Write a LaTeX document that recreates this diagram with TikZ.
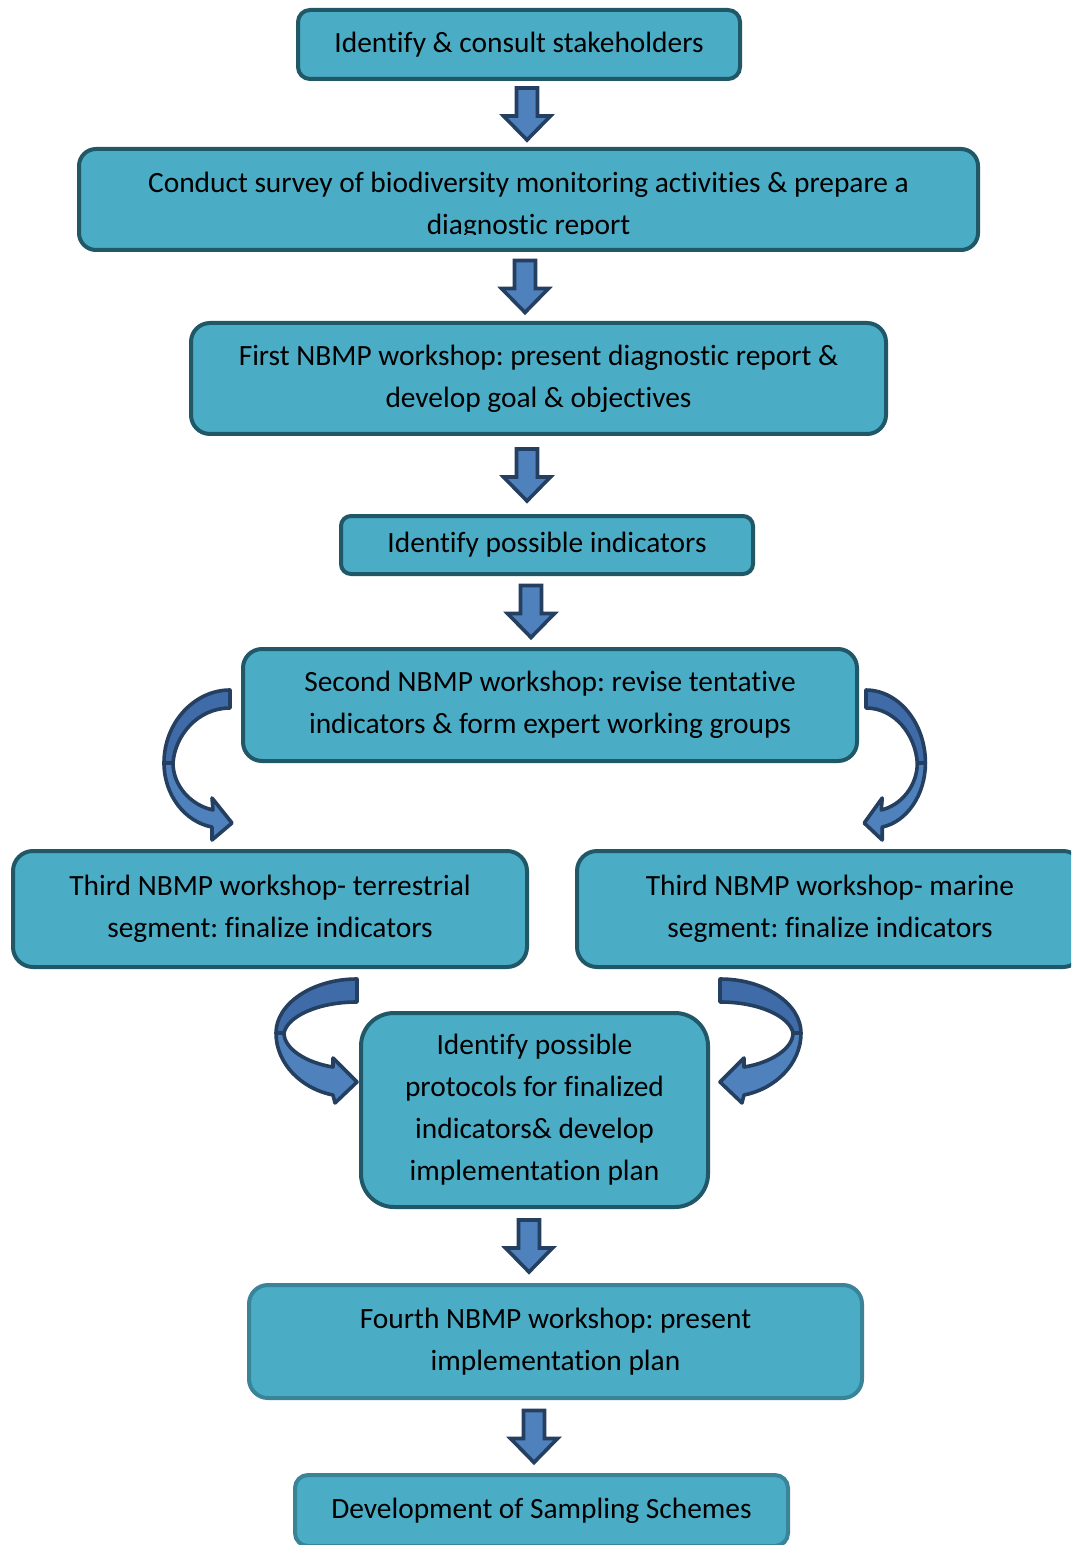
\documentclass[tikz,border=0pt]{standalone}
\usepackage{fontspec}
\setmainfont{Carlito}[Ligatures=NoCommon]
\usepackage{tikz}
\usetikzlibrary{calc}
\definecolor{acqua}{HTML}{4BACC6}
\definecolor{bordo}{HTML}{215868}
\definecolor{bordochiaro}{HTML}{3A8499}
\definecolor{blu}{HTML}{4F81BD}
\definecolor{bluscuro}{HTML}{3F6CA8}
\definecolor{contorno}{HTML}{243F60}
\frenchspacing

\tikzset{
  testo/.style={align=center, inner sep=0pt, font=\fontsize{14.7}{21}\selectfont},
  box/.style={testo, draw=bordo, fill=acqua, line width=2pt},
  frecciablu/.style={draw=contorno, fill=blu, line width=1.8pt, line join=miter},
  curvablu/.style={draw=contorno, line width=1.8pt, line join=round},
  curvapiccola/.pic={
    \draw[curvablu, fill=bluscuro] (0,0) .. controls (-35,0) and (-66,32) .. (-66,73)
      -- (-57,73) .. controls (-55,45) and (-32,18) .. (0,18) -- cycle;
    \draw[curvablu, fill=blu] (-66,73) .. controls (-66,105) and (-45,132) .. (-18,137)
      -- (-18,150) -- (2,133) -- (-18,108) -- (-17,120)
      .. controls (-40,115) and (-57,95) .. (-57,73) -- cycle;
  },
  curvagrande/.pic={
    \draw[curvablu, fill=bluscuro] (0,0) .. controls (-45,0) and (-81,25) .. (-81,54)
      -- (-73,54) .. controls (-70,38) and (-40,23) .. (0,23) -- cycle;
    \draw[curvablu, fill=blu] (-81,54) .. controls (-81,85) and (-55,110) .. (-24,116)
      -- (-22,124) -- (0,103) -- (-24,79) -- (-24,88)
      .. controls (-50,84) and (-73,70) .. (-73,54) -- cycle;
  },
}

% freccia verticale tra due riquadri: da, a, ascissa
\newcommand{\freccia}[3]{%
  \coordinate (M) at ($(#3,0 |- #1.south)!0.5!(#3,0 |- #2.north)$);
  \draw[frecciablu] ($(M)+(-10.5,-26)$) -- ($(M)+(-10.5,2)$) -- ($(M)+(-23.5,2)$)
    -- ($(M)+(0,26)$) -- ($(M)+(23.5,2)$) -- ($(M)+(10.5,2)$)
    -- ($(M)+(10.5,-26)$) -- cycle;}

\begin{document}
\begin{tikzpicture}[x=0.5pt, y=-0.5pt]
  \useasboundingbox (0,0) rectangle (1071,1545);
  \clip (0,0) rectangle (1071,1545);

  % Riquadri
  \node[box, minimum width=221pt, minimum height=34.5pt, rounded corners=6pt]
    (stake) at (519,44.5) {Identify \& consult stakeholders};
  \node[box, minimum width=449.5pt, minimum height=50.5pt, rounded corners=8.5pt]
    (survey) at (528.5,199.5) {};
  \begin{scope}
    \clip (77,147) rectangle (980,235);
    \node[testo] (surveytxt) at (528.5,205.5)
      {Conduct survey of biodiversity monitoring activities \& prepare a\\diagnostic report};
  \end{scope}
  \node[box, minimum width=347.5pt, minimum height=55.5pt, rounded corners=9.5pt]
    (first) at (538.5,378.5) {First NBMP workshop: present diagnostic report \&\\develop goal \& objectives};
  \node[box, minimum width=206pt, minimum height=29pt, rounded corners=5pt]
    (indic) at (547,545) {Identify possible indicators};
  \node[box, minimum width=307pt, minimum height=56pt, rounded corners=9.5pt]
    (second) at (550,705) {Second NBMP workshop: revise tentative\\indicators \& form expert working groups};
  \node[box, minimum width=257pt, minimum height=58pt, rounded corners=10pt]
    (terr) at (270,909) {Third NBMP workshop- terrestrial\\segment: finalize indicators};
  \node[box, minimum width=253pt, minimum height=58pt, rounded corners=10pt]
    (marine) at (830,909) {Third NBMP workshop- marine\\segment: finalize indicators};
  \node[box, minimum width=173.5pt, minimum height=97pt, rounded corners=16.5pt]
    (proto) at (534.5,1110) {Identify possible\\protocols for finalized\\indicators\& develop\\implementation plan};
  \node[box, draw=bordochiaro, minimum width=306.5pt, minimum height=56.5pt, rounded corners=9.5pt]
    (fourth) at (555.5,1341.5) {Fourth NBMP workshop: present\\implementation plan};
  \node[box, draw=bordochiaro, minimum width=246.5pt, minimum height=35.5pt, rounded corners=6.5pt]
    (sampling) at (541.5,1510.5) {Development of Sampling Schemes};

  % Frecce diritte
  \freccia{stake}{survey}{527}
  \freccia{survey}{first}{525}
  \freccia{first}{indic}{527}
  \freccia{indic}{second}{531}
  \freccia{proto}{fourth}{529}
  \freccia{fourth}{sampling}{534}

  % Frecce curve
  \pic at (230,690) {curvapiccola};
  \pic[xscale=-0.9] at (866,690) {curvapiccola};
  \pic at (357,979) {curvagrande};
  \pic[xscale=-1] at (720,979) {curvagrande};
\end{tikzpicture}
\end{document}
